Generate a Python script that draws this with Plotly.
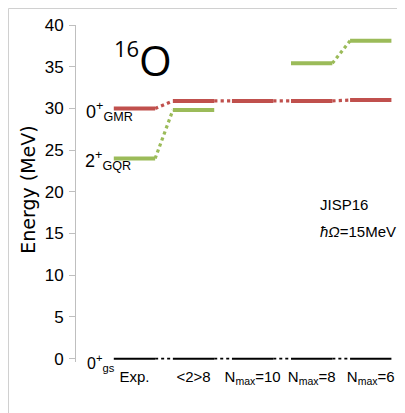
import plotly.graph_objects as go

categories = ["Exp.", "&lt;2&gt;8", "N<sub>max</sub>=10", "N<sub>max</sub>=8", "N<sub>max</sub>=6"]
gs_energy = [0, 0, 0, 0, 0]
gmr_energy = [30.0, 30.9, 30.9, 30.9, 31.0]
gqr_energy = [24.0, 29.8, None, 35.4, 38.1]
y_ticks = [0, 5, 10, 15, 20, 25, 30, 35, 40]

RED = "#C0504D"
GREEN = "#9BBB59"
BLACK = "#000000"
HALF = 0.35
FONT = "Liberation Sans Narrow, Arial Narrow, Liberation Sans, sans-serif"

fig = go.Figure()


def add_levels(vals, color, width):
    sx, sy, dx, dy = [], [], [], []
    prev = None
    for i, v in enumerate(vals):
        if v is None:
            prev = None
            continue
        sx += [i - HALF, i + HALF, None]
        sy += [v, v, None]
        if prev is not None:
            pi, pv = prev
            dx += [pi + HALF, i - HALF, None]
            dy += [pv, v, None]
        prev = (i, v)
    fig.add_trace(go.Scatter(x=dx, y=dy, mode="lines",
                             line=dict(color=color, width=width * 0.8, dash="dot"),
                             hoverinfo="skip", showlegend=False))
    fig.add_trace(go.Scatter(x=sx, y=sy, mode="lines",
                             line=dict(color=color, width=width),
                             hoverinfo="skip", showlegend=False))


add_levels(gs_energy, BLACK, 2)
add_levels(gmr_energy, RED, 4)
add_levels(gqr_energy, GREEN, 4)

fig.update_layout(
    width=405, height=413,
    margin=dict(l=68, r=8, t=17, b=59),
    plot_bgcolor="white", paper_bgcolor="white",
    font=dict(family=FONT, color="#000000", size=16),
    xaxis=dict(range=[-0.99, 4.58], tickmode="array",
               tickvals=list(range(len(categories))), ticktext=categories,
               showgrid=False, zeroline=False, showline=False, ticks="",
               ticklabelstandoff=4,
               tickfont=dict(size=15, family=FONT)),
    yaxis=dict(range=[-0.4, 40], tickvals=y_ticks, showgrid=False, zeroline=False,
               showline=True, linecolor="#BFBFBF", linewidth=1,
               ticks="outside", ticklen=6, tickcolor="#BFBFBF",
               ticklabelstandoff=2,
               tickfont=dict(size=17, family=FONT)),
)

# y-axis title
fig.add_annotation(x=-0.1459, y=0.511, xref="paper", yref="paper", xanchor="center",
                   yanchor="middle", textangle=-90, text="Energy (MeV)", showarrow=False,
                   font=dict(size=19, family="DejaVu Sans"))

# outer frame
fig.add_shape(type="line", xref="paper", yref="paper", x0=-0.2052, x1=1.1, y0=1.0489, y1=1.0489,
              line=dict(color="#D0D0D0", width=1))
fig.add_shape(type="line", xref="paper", yref="paper", x0=-0.2052, x1=-0.2052, y0=-0.25, y1=1.0489,
              line=dict(color="#D0D0D0", width=1))

# labels
fig.add_annotation(x=-0.86, y=29.6, xref="x", yref="y", xanchor="left", yanchor="middle",
                   text="0<sup>+</sup><sub>GMR</sub>", showarrow=False,
                   font=dict(size=18, family=FONT))
fig.add_annotation(x=-0.87, y=23.7, xref="x", yref="y", xanchor="left", yanchor="middle",
                   text="2<sup>+</sup><sub>GQR</sub>", showarrow=False,
                   font=dict(size=18, family=FONT))
fig.add_annotation(x=-0.84, y=0, yshift=-4, xref="x", yref="y", xanchor="left", yanchor="middle",
                   text="0<sup>+</sup><sub>gs</sub>", showarrow=False,
                   font=dict(size=16, family=FONT))
fig.add_annotation(x=-0.13, y=37.2, xref="x", yref="y", xanchor="center", yanchor="middle",
                   text="16", showarrow=False, font=dict(size=22, family="Open Sans"))
fig.add_annotation(x=0.04, y=35.9, xref="x", yref="y", xanchor="left", yanchor="middle",
                   text="O", showarrow=False, font=dict(size=42, family="Open Sans"))
fig.add_annotation(x=3.1, y=18.5, xref="x", yref="y", xanchor="left", yanchor="middle",
                   text="JISP16", showarrow=False, font=dict(size=15, family=FONT))
fig.add_annotation(x=3.1, y=15.3, xref="x", yref="y", xanchor="left", yanchor="middle",
                   text="<i>ħΩ</i>=15MeV", showarrow=False, font=dict(size=15, family=FONT))

fig.write_html("out.html")
